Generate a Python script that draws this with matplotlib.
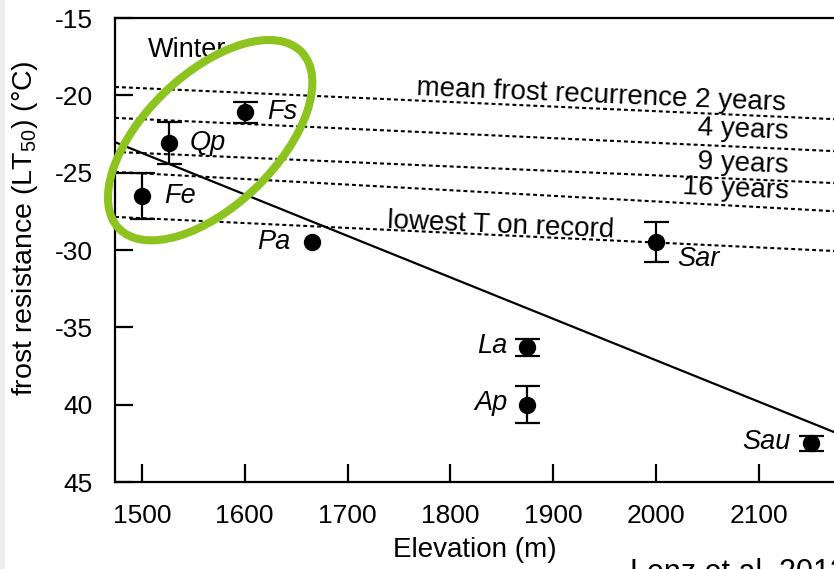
import numpy as np
import matplotlib
matplotlib.use("Agg")
import matplotlib.pyplot as plt
from matplotlib.patches import Ellipse, Rectangle

plt.rcParams['font.family'] = ['Liberation Sans', 'DejaVu Sans']
plt.rcParams['mathtext.fontset'] = 'custom'
plt.rcParams['mathtext.rm'] = 'Liberation Sans'
plt.rcParams['mathtext.it'] = 'Liberation Sans:italic'

# winter frost resistance per species
species = ['Fe', 'Qp', 'Fs', 'Pa', 'La', 'Ap', 'Sar', 'Sau']
elevation = [1500, 1526, 1600, 1665, 1874, 1874, 2000, 2150]
lt50 = [-26.5, -23.1, -21.1, -29.5, -36.3, -40.0, -29.5, -42.5]
lt50_err = [1.5, 1.35, 0.7, 0.0, 0.55, 1.2, 1.3, 0.5]

# minimum temperatures along the gradient (values at both ends)
line_elev = [1474, 2200]
recurrence_names = ['mean frost recurrence 2 years', '4 years', '9 years',
                    '16 years', 'lowest T on record']
recurrence_lo = [-19.46, -21.46, -23.66, -24.95, -27.86]
recurrence_hi = [-21.62, -23.69, -25.75, -27.59, -30.15]

yticks = [-15, -20, -25, -30, -35, -40, -45]
ytick_labels = ['-15', '-20', '-25', '-30', '-35', '40', '45']
xticks = [1500, 1600, 1700, 1800, 1900, 2000, 2100]

W, H = 834, 569
fig = plt.figure(figsize=(W / 100, H / 100), dpi=100)
# plot box runs past the right edge of the page
ax = fig.add_axes([115 / W, 87 / H, 747 / W, 464 / H])
ax.set_xlim(1474, 2200)
ax.set_ylim(-45, -15)

for s in ['right', 'top', 'left', 'bottom']:
    ax.spines[s].set_linewidth(1.6)
ax.tick_params(direction='in', length=13, width=1.6, pad=16, labelsize=19,
               top=False, right=False)
ax.set_xticks(xticks)
ax.set_yticks(yticks)
ax.set_yticklabels(ytick_labels)

# recurrence lines
for lo, hi in zip(recurrence_lo, recurrence_hi):
    ax.plot(line_elev, [lo, hi], color='black', lw=1.5,
            linestyle=(0, (1.9, 1.45)))

# linear fit over all species
k, b = np.polyfit(elevation, lt50, 1)
fx = np.array(line_elev)
ax.plot(fx, k * fx + b, color='black', lw=1.6)

x = np.array(elevation)
y = np.array(lt50)
e = np.array(lt50_err)
has_err = e > 0
ax.errorbar(x[has_err], y[has_err], yerr=e[has_err], fmt='none',
            ecolor='black', elinewidth=1.6, capsize=9, capthick=1.6)
ax.plot(x, y, 'o', color='black', ms=11.5)

# species labels (offsets in points)
offsets = {'Fe': (16, 0), 'Qp': (15, 0), 'Fs': (16, 0), 'Pa': (-15, 0),
           'La': (-14, 1), 'Ap': (-14, 1), 'Sar': (15, -12), 'Sau': (-14, 1)}
for name, xi, yi in zip(species, elevation, lt50):
    dx, dy = offsets[name]
    ax.annotate(name, (xi, yi), xytext=(dx, dy), textcoords='offset points',
                ha='left' if dx > 0 else 'right', va='center',
                fontsize=19.5, style='italic')

# labels of the recurrence lines
lbl = dict(fontsize=20, rotation=-2.4, rotation_mode='anchor', va='center')
ax.text(1946.6, -20.0, recurrence_names[0], ha='center', **lbl)
ax.text(2129, -22.37, recurrence_names[1], ha='right', **lbl)
ax.text(2129, -24.57, recurrence_names[2], ha='right', **lbl)
ax.text(2129, -26.23, recurrence_names[3], ha='right', **lbl)
ax.text(1848.5, -28.45, recurrence_names[4], ha='center', **lbl)

ax.text(1506, -17.1, 'Winter', ha='left', va='center', fontsize=19.5)

fig.text(25 / W, 1 - 228 / H, 'frost resistance (LT$_{50}$) (°C)',
         rotation=90, ha='center', va='center', fontsize=20.5)
fig.text(475 / W, 1 - 550 / H, 'Elevation (m)', ha='center', va='center',
         fontsize=20)
fig.text(630 / W, 1 - 558 / H, 'Lenz et al. 2013', ha='left', va='top',
         fontsize=22)

# highlight of the lowland species
fig.canvas.draw()
cx, cy = ax.transData.transform((1566.5, -22.9))
ell = Ellipse((cx / 100, cy / 100), 2.54, 1.32, angle=44,
              transform=fig.dpi_scale_trans, fill=False,
              edgecolor='#8cc31e', lw=5.8, zorder=5)
fig.add_artist(ell)

fig.add_artist(Rectangle((0, 0), 5 / W, 1, transform=fig.transFigure,
                         facecolor='#eeeeee', edgecolor='none'))

fig.savefig('out.png', dpi=100)
